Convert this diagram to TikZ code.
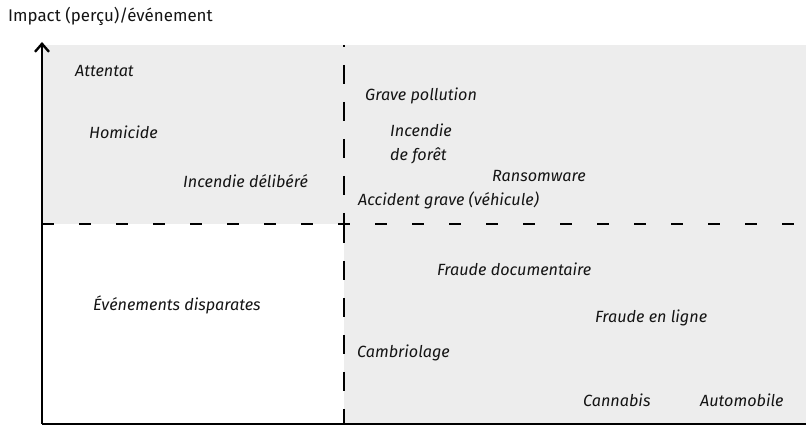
\documentclass[tikz,border=0pt]{standalone}
\usepackage{fontspec}
\setmainfont{Fira Sans}
\usetikzlibrary{arrows.meta, positioning}
\definecolor{zone}{RGB}{237,237,237}
\definecolor{ink}{RGB}{20,20,20}

\begin{document}
\begin{tikzpicture}[
  x=1pt, y=-1pt,
  event/.style={anchor=west, inner sep=0pt, align=left, text=ink,
    font=\fontsize{16.2}{24}\selectfont\itshape},
  axis/.style={line width=#1, draw=black},
  hsplit/.style={line width=1.4pt, dash pattern=on 12pt off 25pt},
  vsplit/.style={line width=1.2pt, dash pattern=on 19pt off 18pt, dash phase=#1}
]
\useasboundingbox (0,0) rectangle (809,427);

% Zones
\fill[zone] (42,45) rectangle (806,424);
\fill[white] (42,224) rectangle (344,424);

% Separators
\coordinate (hl) at (42,224);
\coordinate (hr) at (806,224);
\coordinate (vt) at (344,45);
\coordinate (vm) at (344,224);
\coordinate (vb) at (344,424);
\draw[hsplit] (hl) -- (hr);
\draw[vsplit=17pt] (vt) -- (vm);
\draw[vsplit=0pt] (vm) -- (vb);

% Axes
\coordinate (origin) at (42,424);
\coordinate (ytop) at (42,42);
\coordinate (xend) at (806,424);
\draw[axis=2.6pt, -{Straight Barb[length=8pt, width=14pt, line width=2.4pt]}] (origin) -- (ytop);
\draw[axis=2pt] (origin) -- (xend);

\node[anchor=west, inner sep=0pt, font=\fontsize{16.9}{20}\selectfont, text=ink] (title) at (8,16) {Impact (perçu)/événement};

% Upper left
\node[event] (attentat) at (75,71) {Attentat};
\node[event] (homicide) at (89,132) {Homicide};
\node[event] (delibere) at (183,181) {Incendie délibéré};

% Upper right
\node[event] (pollution) at (365,96) {Grave pollution};
\node[event] (foret) at (390,144) {Incendie\\de forêt};
\node[event] (ransom) at (492,176) {Ransomware};
\node[event] (accident) at (358,200) {Accident grave (véhicule)};

% Lower left
\node[event] (disparates) at (93,305) {Événements disparates};

% Lower right
\node[event] (fraudedoc) at (437,269) {Fraude documentaire};
\node[event] (fraudeweb) at (595,318) {Fraude en ligne};
\node[event] (cambriolage) at (357,353) {Cambriolage};
\node[event] (cannabis) at (583,400) {Cannabis};
\node[event] (auto) at (700,400) {Automobile};
\end{tikzpicture}
\end{document}
